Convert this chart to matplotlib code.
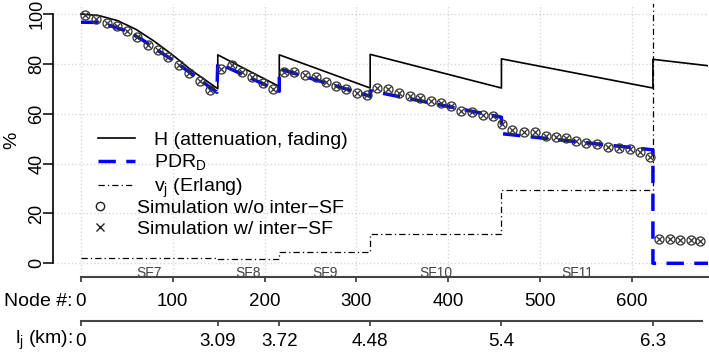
import matplotlib
matplotlib.use("Agg")
import matplotlib.pyplot as plt
from matplotlib.lines import Line2D

plt.rcParams["font.family"] = ["Liberation Sans", "DejaVu Sans"]
plt.rcParams["mathtext.default"] = "regular"

# node index where each SF region starts, plus the km distances at those borders
sf_names = ["SF7", "SF8", "SF9", "SF10", "SF11"]
sf_bounds = [0, 149, 216, 315, 458, 623]
lj_labels = ["0", "3.09", "3.72", "4.48", "5.4", "6.3"]
node_ticks = [0, 100, 200, 300, 400, 500, 600]

# H (attenuation, fading)
h_nodes = [0, 20, 40, 60, 80, 100, 120, 149, 149, 216, 216, 315, 315, 458, 458, 623, 623, 684]
h_vals = [100, 99.3, 97.3, 93.8, 89.0, 83.5, 77.5, 70.0, 83.6, 70.9, 83.6, 70.3, 83.8, 70.3, 82.0, 70.3, 81.8, 79.2]

# PDR_D
pdr_nodes = [0, 18, 26, 51, 67, 81, 100, 122, 148, 149, 216, 216, 315, 315, 458, 458, 623, 623, 684]
pdr_vals = [96.7, 96.6, 96.0, 93.0, 89.6, 86.0, 81.5, 75.6, 68.6, 80.3, 69.0, 78.0, 67.0, 69.2, 58.6, 52.0, 45.5, 0, 0]

# v_j (Erlang), one value per region (last one is off the chart)
vj_nodes = [0, 149, 216, 315, 458, 623, 684]
vj_vals = [2.3, 1.6, 4.5, 11.8, 29.4, 150, 150]

# simulation points
sim_nodes = [4, 16, 28, 39, 50, 61, 73, 84, 95, 107, 118, 130, 141,
             153, 164, 175, 186, 198, 209,
             221, 232, 244, 256, 267, 278, 289, 301, 311,
             322, 334, 346, 358, 369, 381, 392, 403, 414, 426, 438, 449, 459,
             470, 483, 495, 506, 517, 528, 539, 550, 562, 574, 586, 598, 609, 620,
             630, 642, 653, 664, 674]
sim_wo = [99.5, 98.1, 96.4, 95.0, 93.3, 90.8, 87.7, 85.4, 82.6, 79.6, 76.5, 73.2, 69.6,
          78.1, 79.5, 76.6, 74.8, 72.2, 69.8,
          76.9, 76.7, 75.6, 74.7, 72.9, 71.2, 69.9, 68.3, 67.6,
          70.5, 69.9, 68.3, 67.3, 66.3, 65.2, 64.3, 63.2, 61.2, 60.5, 59.6, 58.9, 55.8,
          53.5, 52.8, 52.8, 51.1, 50.6, 50.2, 49.2, 48.2, 47.8, 46.8, 46.4, 45.9, 44.8, 42.6,
          9.8, 9.8, 9.4, 9.4, 9.1]
sim_w = [99.5, 98.1, 96.4, 95.0, 93.3, 90.8, 87.7, 85.4, 82.6, 79.6, 76.5, 73.2, 69.6,
         78.1, 79.5, 76.6, 74.8, 72.2, 69.8,
         76.9, 76.7, 75.6, 74.7, 72.9, 71.2, 69.9, 68.3, 67.6,
         70.5, 69.9, 68.3, 67.3, 66.3, 65.2, 64.3, 63.2, 61.2, 60.5, 59.6, 58.9, 55.8,
         53.5, 52.8, 52.8, 51.1, 50.6, 50.2, 49.2, 48.2, 47.8, 46.8, 46.4, 45.9, 44.8, 42.6,
         9.8, 9.8, 9.4, 9.4, 9.1]

W, H = 709, 353
fig = plt.figure(figsize=(W / 100, H / 100), dpi=100)
L, R = 53 / W, 708 / W
xlim = (-30.5, 683)
FS = 14
TFS = 13.5

ax = fig.add_axes([L, 0.2258, R - L, 0.7629])
ax.set_xlim(xlim)
ax.set_ylim(-4, 104)
ax.patch.set_visible(False)

ax.plot(h_nodes, h_vals, color="black", lw=1.2)
ax.plot(pdr_nodes, pdr_vals, color="blue", lw=2.5, ls=(0, (5, 3)))
ax.plot(vj_nodes, vj_vals, color="black", lw=0.9, ls=(0, (5, 2.5, 1, 2.5)), drawstyle="steps-post")
ax.plot(sim_nodes, sim_wo, ls="none", marker="o", ms=6.5, mfc="none", mec="#333333", mew=0.9)
ax.plot(sim_nodes, sim_w, ls="none", marker="x", ms=4.3, mec="#333333", mew=0.9)

for s in ["top", "right", "bottom"]:
    ax.spines[s].set_visible(False)
ax.spines["left"].set_bounds(0, 100)
ax.spines["left"].set_linewidth(1.2)
ax.set_yticks(range(0, 101, 20))
ax.tick_params(axis="y", length=7, width=1.1, pad=-1.5, labelsize=13, labelrotation=90)
for t in ax.get_yticklabels():
    t.set_va("center")
ax.set_xticks(node_ticks)
ax.tick_params(axis="x", length=0, labelbottom=False)
ax.grid(True, color="#d8d8d8", ls=":", lw=1)
fig.text(12 / W, 1 - 140 / H, "%", rotation=90, ha="center", va="center", fontsize=FS)

# SF names in the middle of each region
for i, name in enumerate(sf_names):
    mid = (sf_bounds[i] + sf_bounds[i + 1]) / 2
    ax.text(mid, -5.6, name, ha="center", va="baseline", fontsize=10, color="#444444", clip_on=False)

# legend: lines, then the simulation markers
line_handles = [
    Line2D([], [], color="black", lw=1.2),
    Line2D([], [], color="blue", lw=2.5, ls=(0, (5, 3))),
    Line2D([], [], color="black", lw=0.9, ls=(0, (5, 2.5, 1, 2.5))),
]
leg1 = ax.legend(line_handles, ["H (attenuation, fading)", r"PDR$_\mathregular{D}$", r"v$_\mathregular{j}$ (Erlang)"],
                 loc="upper left", bbox_to_anchor=(98 / W, 1 - 131 / H), bbox_transform=fig.transFigure,
                 frameon=False, fontsize=FS, handlelength=1.9, handletextpad=1.0,
                 borderpad=0, borderaxespad=0, labelspacing=0.2)
ax.add_artist(leg1)
mark_handles = [
    Line2D([], [], ls="none", marker="o", ms=6, mfc="none", mec="#222222", mew=1.0),
    Line2D([], [], ls="none", marker="x", ms=6, mec="#222222", mew=1.0),
]
ax.legend(mark_handles, ["Simulation w/o inter\u2212SF", "Simulation w/ inter\u2212SF"],
          loc="upper left", bbox_to_anchor=(94 / W, 1 - 199 / H), bbox_transform=fig.transFigure,
          frameon=False, fontsize=FS, handlelength=0.6, handletextpad=1.6,
          borderpad=0, borderaxespad=0, labelspacing=0.2)


def bottom_axis(ypix, ticks, labels, end, pad):
    a = fig.add_axes([L, 1 - ypix / H, R - L, 0.0001])
    a.set_xlim(xlim)
    a.patch.set_visible(False)
    for s in ["top", "left", "right"]:
        a.spines[s].set_visible(False)
    a.spines["bottom"].set_bounds(0, end)
    a.spines["bottom"].set_color("#444444")
    a.spines["bottom"].set_linewidth(1.5)
    a.set_yticks([])
    a.set_xticks(ticks, labels)
    a.tick_params(axis="x", length=3.6, width=1.3, color="#444444", pad=pad, labelsize=TFS)
    return a


bottom_axis(276.7, node_ticks, [str(n) for n in node_ticks], 683, 8)
bottom_axis(321, sf_bounds, lj_labels, 676, 5)

fig.text(73 / W, 1 - 301.7 / H, "Node #:", ha="right", va="center", fontsize=FS)
fig.text(73 / W, 1 - 340.7 / H, r"l$_\mathregular{j}$ (km):", ha="right", va="center", fontsize=FS)

fig.savefig("out.png", dpi=100)
